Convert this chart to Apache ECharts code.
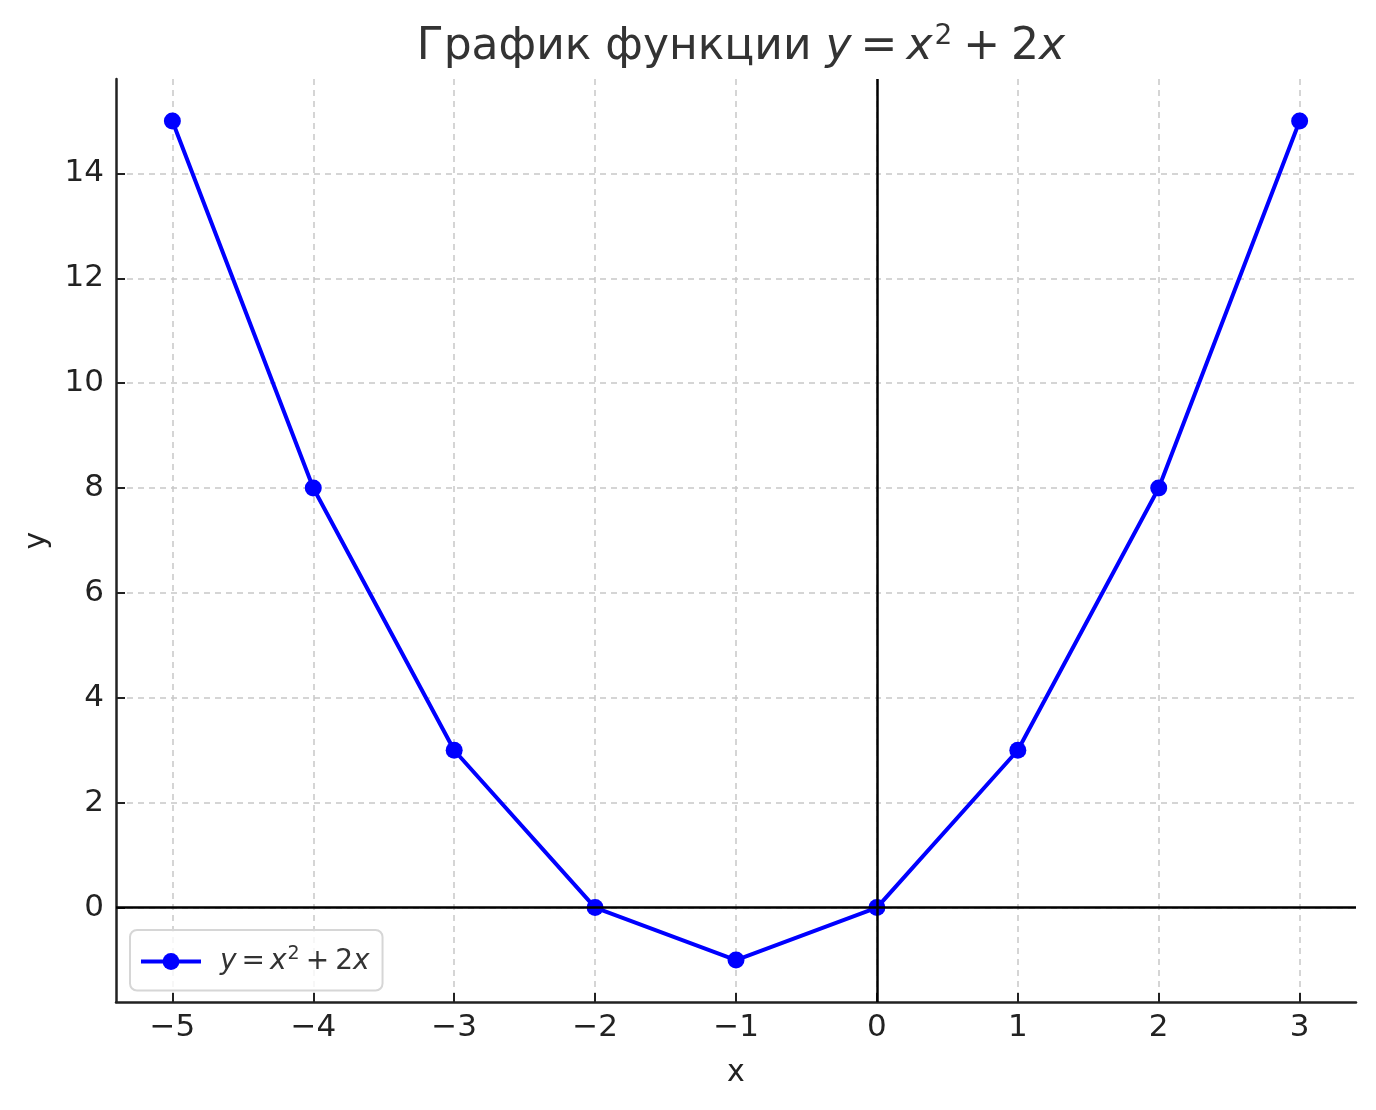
<!DOCTYPE html>
<html>
<head>
<meta charset="utf-8">
<script src="https://cdn.jsdelivr.net/npm/echarts@6/dist/echarts.min.js"></script>
<style>
html,body{margin:0;padding:0;background:#fff;}
#chart{width:1376px;height:1110px;}
</style>
</head>
<body>
<div id="chart"></div>
<script>
const xValues = [-5, -4, -3, -2, -1, 0, 1, 2, 3];
const yValues = [15, 8, 3, 0, -1, 0, 3, 8, 15];
const xTicks = [-5, -4, -3, -2, -1, 0, 1, 2, 3];
const yTicks = [0, 2, 4, 6, 8, 10, 12, 14];
const titlePrefix = 'График функции ';
const seriesName = 'y = x² + 2x';

const FONT = 'DejaVu Sans';
const fmtNum = v => String(v).replace('-', '\u2212');
const mathRich = '{i|y}{eq|=}{i|x}{sup|2}{pl|+}{n|2}{i|x}';

const chart = echarts.init(document.getElementById('chart'));
chart.setOption({
  animation: false,
  backgroundColor: '#ffffff',
  title: {
    text: '{n|' + titlePrefix + '}' + mathRich,
    left: 736,
    top: 18,
    textAlign: 'center',
    textStyle: {
      fontFamily: FONT, fontSize: 44, fontWeight: 'normal', color: '#333333',
      rich: {
        n: {fontFamily: FONT, fontSize: 44, color: '#333333'},
        i: {fontFamily: FONT, fontSize: 44, fontStyle: 'italic', color: '#333333'},
        eq: {fontFamily: FONT, fontSize: 44, color: '#333333', padding: [0, 9, 0, 9]},
        pl: {fontFamily: FONT, fontSize: 44, color: '#333333', padding: [0, 11, 0, 11]},
        sup: {fontFamily: FONT, fontSize: 28, color: '#333333', padding: [0, 0, 22, 2]}
      }
    }
  },
  legend: {
    data: [seriesName],
    left: 130,
    top: 930,
    orient: 'vertical',
    padding: [15, 13, 15, 9],
    itemWidth: 60,
    itemHeight: 21,
    borderColor: '#d6d6d6',
    borderWidth: 2,
    borderRadius: 7,
    backgroundColor: 'rgba(255,255,255,0.8)',
    lineStyle: {width: 4, color: '#0000ff'},
    formatter: () => '{g|}' + mathRich,
    textStyle: {
      fontFamily: FONT, fontSize: 28, color: '#333333',
      rich: {
        g: {width: 14},
        n: {fontFamily: FONT, fontSize: 28, color: '#333333'},
        i: {fontFamily: FONT, fontSize: 28, fontStyle: 'italic', color: '#333333'},
        eq: {fontFamily: FONT, fontSize: 28, color: '#333333', padding: [0, 5, 0, 5]},
        pl: {fontFamily: FONT, fontSize: 28, color: '#333333', padding: [0, 6, 0, 6]},
        sup: {fontFamily: FONT, fontSize: 19, color: '#333333', padding: [0, 0, 14, 1]}
      }
    }
  },
  grid: {left: 116, top: 79, width: 1240, height: 923, containLabel: false},
  xAxis: {
    type: 'value',
    min: -5.4,
    max: 3.4,
    name: 'x',
    nameLocation: 'middle',
    nameGap: 56,
    nameTextStyle: {fontFamily: FONT, fontSize: 30, color: '#222222'},
    axisLine: {show: true, onZero: false, lineStyle: {color: '#222222', width: 2.5}},
    axisTick: {show: true, inside: true, length: 9, customValues: xTicks, lineStyle: {color: '#222222', width: 2}},
    axisLabel: {customValues: xTicks, formatter: fmtNum, margin: 10, fontFamily: FONT, fontSize: 31, color: '#222222'},
    splitLine: {show: true, lineStyle: {type: [6, 5], color: '#c8c8c8', width: 1.5}}
  },
  yAxis: {
    type: 'value',
    min: -1.8,
    max: 15.8,
    name: 'y',
    nameLocation: 'middle',
    nameGap: 64,
    nameTextStyle: {fontFamily: FONT, fontSize: 30, color: '#222222'},
    axisLine: {show: true, onZero: false, lineStyle: {color: '#222222', width: 2.5}},
    axisTick: {show: true, inside: true, length: 9, customValues: yTicks, lineStyle: {color: '#222222', width: 2}},
    axisLabel: {customValues: yTicks, formatter: fmtNum, margin: 12, fontFamily: FONT, fontSize: 31, color: '#222222'},
    splitLine: {show: true, lineStyle: {type: [6, 5], color: '#c8c8c8', width: 1.5}}
  },
  series: [
    {
      name: seriesName,
      type: 'line',
      data: xValues.map((x, i) => [x, yValues[i]]),
      symbol: 'circle',
      symbolSize: 17,
      showSymbol: true,
      itemStyle: {color: '#0000ff'},
      lineStyle: {color: '#0000ff', width: 4},
      z: 3
    },
    {
      name: 'axes0',
      type: 'line',
      data: [],
      z: 5,
      markLine: {
        silent: true,
        symbol: ['none', 'none'],
        label: {show: false},
        lineStyle: {color: '#000000', width: 2.5, type: 'solid'},
        data: [{xAxis: 0}, {yAxis: 0}],
        z: 5
      }
    }
  ]
});
</script>
</body>
</html>
